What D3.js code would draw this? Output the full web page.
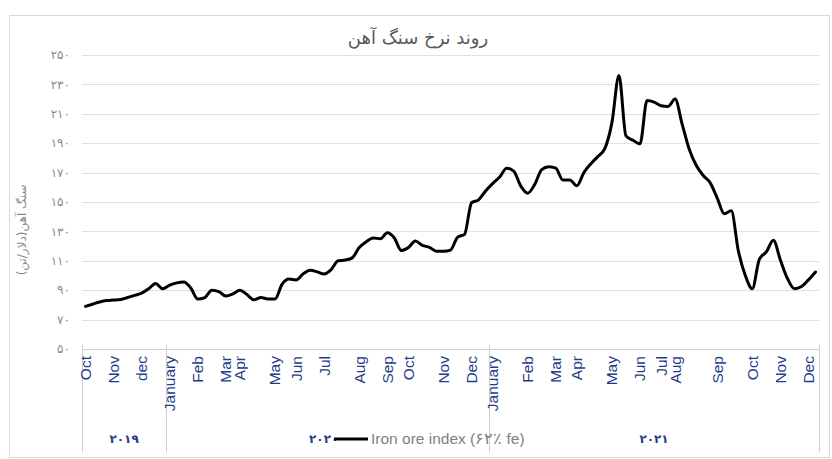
<!DOCTYPE html>
<html><head><meta charset="utf-8">
<script src="https://cdn.jsdelivr.net/npm/d3@7"></script>
<style>body{margin:0;background:#fff}svg{display:block}</style>
</head><body>
<svg id="c" width="832" height="459"></svg>
<script>
const title = "روند نرخ سنگ آهن";
const yTitle = "سنگ آهن(دلار/تن)";
const legendLabel = "Iron ore index (۶۲٪ fe)";
const yTicks = [50, 70, 90, 110, 130, 150, 170, 190, 210, 230, 250];
const yTickLabels = ["۵۰","۷۰","۹۰","۱۱۰","۱۳۰","۱۵۰","۱۷۰","۱۹۰","۲۱۰","۲۳۰","۲۵۰"];
// weekly price series (USD/ton)
const values = [
  79, 80.5, 82, 83, 83.3, 83.7, 85, 86.5, 88, 91, 94.5, 91,
  93.5, 95, 95.6, 91.5, 84, 85, 90, 89, 86, 87.5, 90, 87, 83.5, 85, 84, 84, 94, 97.6,
  97, 101, 103.5, 102.5, 101, 104, 110, 110.5, 112, 119, 123, 125.5, 125, 129, 125.5, 117,
  119, 123.5, 120.5, 119.2, 116.5, 116.5, 117.3, 126, 128, 149.5, 151.5, 157.5,
  162.5, 167, 173, 171, 161, 156, 162, 172, 174, 173, 165, 165, 161, 170, 176, 181, 186.5, 204,
  236, 195, 192, 189.5, 219, 218, 215.5, 215, 220, 203, 186, 175, 168, 163, 152.7, 142,
  144, 117, 100, 91, 111, 116, 124, 110.5, 98, 91, 92.5, 97, 102.4
];
const monthLabels = ["Oct","Nov","dec","January","Feb","Mar","Apr","May","Jun","Jul","Aug","Sep","Oct","Nov","Dec",
  "January","Feb","Mar","Apr","May","Jun","Jul","Aug","Sep","Oct","Nov","Dec"];
const monthIndex = [0,4,8,12,16,20,22,27,30,34,39,43,46,51,55,58,63,67,70,75,79,82,84,90,95,99,103];
const yearLabels = ["۲۰۱۹","۲۰۲۰","۲۰۲۱"];
const yearStart = [0, 12, 58];

const svg = d3.select("#c");
const N = values.length;
const x = d3.scaleLinear().domain([-0.5, N - 0.5]).range([82, 819]);
const y = d3.scaleLinear().domain([50, 250]).range([349, 55]);

// frame
svg.append("rect").attr("x", 9.5).attr("y", 15.5).attr("width", 820).attr("height", 442)
  .attr("fill", "none").attr("stroke", "#d9d9d9");

// title
svg.append("text").attr("x", 418).attr("y", 44).attr("text-anchor", "middle")
  .attr("font-family", "DejaVu Sans, sans-serif").attr("font-size", 18).attr("fill", "#595959")
  .text(title);

// gridlines
svg.append("g").selectAll("line").data(yTicks.slice(1)).join("line")
  .attr("x1", x(-0.5)).attr("x2", x(N - 0.5))
  .attr("y1", d => Math.round(y(d)) + 0.5).attr("y2", d => Math.round(y(d)) + 0.5)
  .attr("stroke", "#e0e0e0").attr("stroke-width", 1);

// y tick labels
svg.append("g").selectAll("text").data(yTicks).join("text")
  .attr("x", 70).attr("y", d => y(d)).attr("dy", "0.35em").attr("text-anchor", "end")
  .attr("font-family", "DejaVu Sans, sans-serif").attr("font-size", 12).attr("fill", "#8a8a8a")
  .text((d, i) => yTickLabels[i]);

// y title
svg.append("text").attr("transform", `translate(22,${y(131)}) rotate(-90)`)
  .attr("text-anchor", "middle").attr("dy", "0.35em")
  .attr("font-family", "DejaVu Sans, sans-serif").attr("font-size", 12).attr("fill", "#8a8a8a")
  .text(yTitle);

// x axis line
svg.append("line").attr("x1", x(-0.5)).attr("x2", x(N - 0.5)).attr("y1", 349.5).attr("y2", 349.5)
  .attr("stroke", "#d0d0d0");

// year separators
const seps = yearStart.concat([N]);
svg.append("g").selectAll("line").data(seps).join("line")
  .attr("x1", d => Math.round(x(d - 0.5)) + 0.5).attr("x2", d => Math.round(x(d - 0.5)) + 0.5)
  .attr("y1", 345).attr("y2", 452).attr("stroke", "#d0d0d0");

// month labels
svg.append("g").selectAll("text").data(monthLabels).join("text")
  .attr("transform", (d, i) => `translate(${x(monthIndex[i])},356) rotate(-90)`)
  .attr("text-anchor", "end").attr("dy", "0.35em")
  .attr("font-family", "Liberation Sans, Arial, sans-serif").attr("font-size", 15.5)
  .attr("fill", "#1f3c88").text(d => d);

// year labels
svg.append("g").selectAll("text").data(yearLabels).join("text")
  .attr("x", (d, i) => (x(yearStart[i] - 0.5) + x(seps[i + 1] - 0.5)) / 2 - (i === 1 ? 4 : 0))
  .attr("y", 439).attr("dy", "0.35em").attr("text-anchor", "middle")
  .attr("font-family", "DejaVu Sans, sans-serif").attr("font-size", 12).attr("font-weight", "bold")
  .attr("fill", "#1f3c88")
  .text(d => d);

// legend
svg.append("line").attr("x1", 334).attr("x2", 368).attr("y1", 439).attr("y2", 439)
  .attr("stroke", "#000").attr("stroke-width", 3);
svg.append("text").attr("x", 371).attr("y", 439).attr("dy", "0.35em")
  .attr("font-family", "Liberation Sans, Arial, sans-serif").attr("font-size", 15.5).attr("fill", "#7f7f7f")
  .text(legendLabel);

// line
const line = d3.line().x((d, i) => x(i)).y(d => y(d)).curve(d3.curveMonotoneX);
svg.append("path").datum(values).attr("d", line)
  .attr("fill", "none").attr("stroke", "#000").attr("stroke-width", 3)
  .attr("stroke-linejoin", "round").attr("stroke-linecap", "round");
</script>
</body></html>
